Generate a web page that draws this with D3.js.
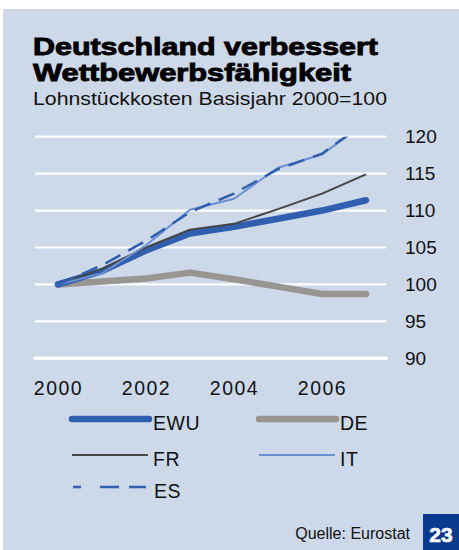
<!DOCTYPE html>
<html><head><meta charset="utf-8">
<script src="https://cdn.jsdelivr.net/npm/d3@7"></script>
<style>
html,body{margin:0;padding:0;background:#fff;}
text{font-family:"Liberation Sans",Arial,Helvetica,sans-serif;}
</style></head>
<body>
<svg id="chart" width="459" height="550"></svg>
<script>
const years = [2000, 2001, 2002, 2003, 2004, 2005, 2006, 2007];
const ewu = [100, 101.8, 104.6, 106.9, 107.8, 108.9, 110.0, 111.4];
const de  = [100, 100.4, 100.8, 101.6, 100.7, 99.7, 98.7, 98.7];
const fr  = [100, 102.1, 105.0, 107.4, 108.2, 110.2, 112.3, 114.9];
const it  = [100, 101.5, 105.3, 110.1, 111.6, 115.8, 117.6, 121.9];
const es  = [100, 102.6, 105.9, 109.8, 112.3, 115.6, 117.7, 122.0];
const yTicks = [90, 95, 100, 105, 110, 115, 120];
const xTicks = [2000, 2002, 2004, 2006];

const series = [
  {name:"EWU", values:ewu, color:"#2f5fae", width:6.5, dash:null, cap:"round"},
  {name:"DE",  values:de,  color:"#989592", width:6.5, dash:null, cap:"round"},
  {name:"FR",  values:fr,  color:"#454545", width:2,   dash:null, cap:"butt"},
  {name:"IT",  values:it,  color:"#6b90d2", width:2,   dash:null, cap:"butt"},
  {name:"ES",  values:es,  color:"#2f5fae", width:2.5, dash:"17,9", cap:"butt"}
];
const drawOrder = ["DE","EWU","FR","IT","ES"];

const svg = d3.select("#chart");
svg.append("rect").attr("x",3).attr("y",9).attr("width",456).attr("height",541).attr("fill","#cdd8e9");

const x = d3.scaleLinear().domain([2000, 2007]).range([58, 366]);
const y = d3.scaleLinear().domain([90, 120]).range([358.3, 136.7]);

// grid
svg.append("g").selectAll("line").data(yTicks).join("line")
  .attr("x1", 35).attr("x2", 386)
  .attr("y1", d => y(d)).attr("y2", d => y(d))
  .attr("stroke","#fff").attr("stroke-width", d => d===90 ? 3.5 : 2.2)
  .attr("stroke-linecap", d => d===90 ? "round" : "butt");

// y axis labels on the right
const yAxis = d3.axisRight(y).tickValues(yTicks).tickSize(0).tickPadding(0);
const gy = svg.append("g").attr("transform","translate(405,0)").call(yAxis);
gy.select(".domain").remove();
gy.selectAll("text").attr("font-size",19).attr("fill","#111").attr("font-family","Liberation Sans, Arial, sans-serif");

// x axis labels
const xAxis = d3.axisBottom(x).tickValues(xTicks).tickFormat(d3.format("d")).tickSize(0).tickPadding(0);
const gx = svg.append("g").attr("transform","translate(0,381)").call(xAxis);
gx.select(".domain").remove();
gx.selectAll("text").attr("font-size",19.5).attr("fill","#111").attr("letter-spacing","1.5px")
  .attr("font-family","Liberation Sans, Arial, sans-serif");

// clip
svg.append("clipPath").attr("id","plotclip").append("rect")
  .attr("x",40).attr("y",y(120)).attr("width",360).attr("height",y(90)-y(120));

const line = d3.line().x((d,i) => x(years[i])).y(d => y(d));
const gl = svg.append("g").attr("clip-path","url(#plotclip)");
drawOrder.forEach(n => {
  const s = series.find(s => s.name===n);
  gl.append("path").datum(s.values).attr("d", line)
    .attr("fill","none").attr("stroke", s.color).attr("stroke-width", s.width)
    .attr("stroke-linecap", s.cap).attr("stroke-linejoin","round")
    .attr("stroke-dasharray", s.dash);
});

// legend
const legendPos = {
  EWU:{x:72, y:419}, DE:{x:259, y:419},
  FR:{x:72, y:455}, IT:{x:259, y:455},
  ES:{x:73, y:487}
};
series.forEach(s => {
  const p = legendPos[s.name];
  const g = svg.append("g");
  g.append("line").attr("x1", p.x).attr("x2", p.x + (s.cap==="round" ? 77 : 76))
    .attr("y1", p.y).attr("y2", p.y)
    .attr("stroke", s.color).attr("stroke-width", s.width)
    .attr("stroke-linecap", s.cap).attr("stroke-dasharray", s.name==="ES" ? "8,19,19,10,17" : null);
  g.append("text").attr("x", p.x + 81).attr("y", p.y + 11).attr("font-size",19.5)
    .attr("fill","#111").attr("letter-spacing","0.5px").text(s.name);
});

// titles
svg.append("text").attr("x",33).attr("y",55).attr("font-size",24).attr("font-weight","bold")
  .attr("stroke","#000").attr("stroke-width",0.9).attr("fill","#000")
  .attr("textLength",345).attr("lengthAdjust","spacingAndGlyphs").text("Deutschland verbessert");
svg.append("text").attr("x",33).attr("y",81).attr("font-size",24).attr("font-weight","bold")
  .attr("stroke","#000").attr("stroke-width",0.9).attr("fill","#000")
  .attr("textLength",318).attr("lengthAdjust","spacingAndGlyphs").text("Wettbewerbsfähigkeit");
svg.append("text").attr("x",33).attr("y",105).attr("font-size",19).attr("fill","#111")
  .attr("textLength",354).attr("lengthAdjust","spacingAndGlyphs").text("Lohnstückkosten Basisjahr 2000=100");

// source & page number
svg.append("text").attr("x",410).attr("y",539).attr("text-anchor","end").attr("font-size",16)
  .attr("fill","#111").text("Quelle: Eurostat");
svg.append("rect").attr("x",423).attr("y",514).attr("width",36).attr("height",36).attr("fill","#0a3a8e");
svg.append("text").attr("x",441).attr("y",542).attr("text-anchor","middle").attr("font-size",21)
  .attr("font-weight","bold").attr("fill","#fff").attr("stroke","#fff").attr("stroke-width",0.6).text("23");
</script>
</body></html>
